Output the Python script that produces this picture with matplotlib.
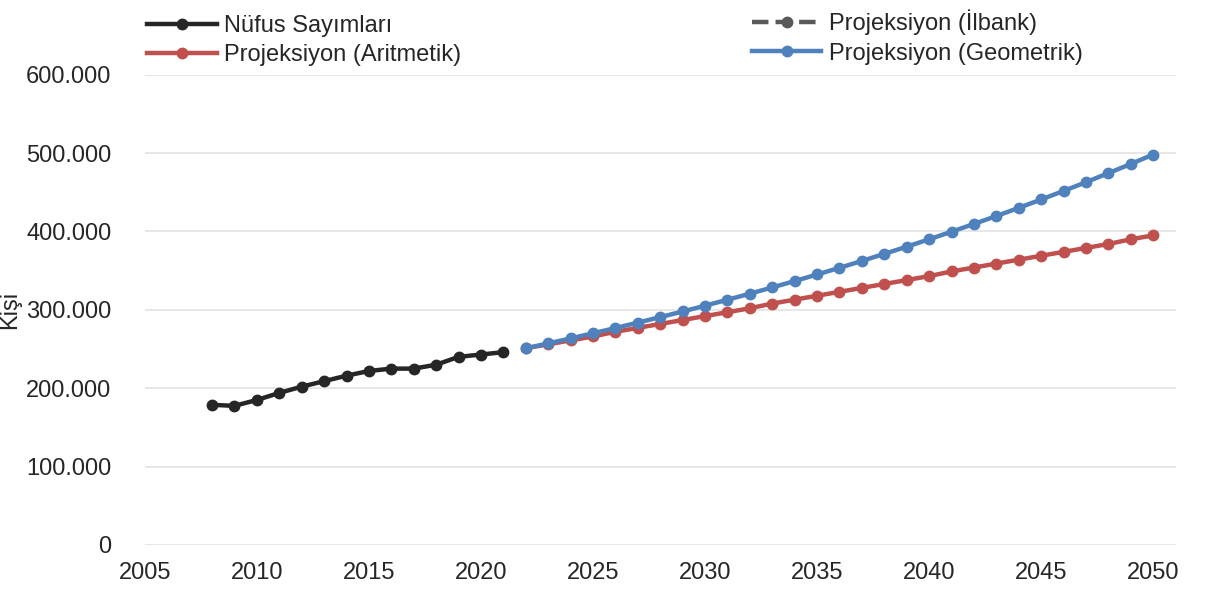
import matplotlib.pyplot as plt
from matplotlib.ticker import FuncFormatter

plt.rcParams['font.family'] = ['Liberation Sans', 'DejaVu Sans']

# census years and population
census_years = list(range(2008, 2022))
census_pop = [178800, 177500, 185000, 194000, 202000, 209000, 216000,
              222000, 225000, 225000, 230000, 240000, 243000, 246000]

# projection years
proj_years = list(range(2022, 2051))
proj_arit = [251000, 256000, 261000, 266000, 272000, 277000, 282000, 287000,
             292000, 297000, 302000, 308000, 313000, 318000, 323000, 328000,
             333000, 338000, 343000, 349000, 354000, 359000, 364000, 369000,
             374000, 379000, 384000, 390000, 395000]
proj_geo = [251000, 257200, 263600, 270100, 276800, 283700, 290700, 297900,
            305300, 312900, 320600, 328600, 336700, 345100, 353600, 362400,
            371400, 380600, 390000, 399700, 409600, 419700, 430100, 440800,
            451700, 462900, 474400, 486100, 498200]
# ilbank series has no visible points on the chart
ilbank_years = []
ilbank_pop = []

c_black = '#262626'
c_red = '#c0504d'
c_blue = '#4f81bd'
c_gray = '#595959'
fs = 17

fig = plt.figure(figsize=(12.17, 5.93), dpi=100)
ax = fig.add_axes([0.119, 0.081, 0.847, 0.793])

l1, = ax.plot(census_years, census_pop, color=c_black, lw=3.2, marker='o', ms=7.5, zorder=4)
l2, = ax.plot(proj_years, proj_arit, color=c_red, lw=3.2, marker='o', ms=7.5, zorder=3)
l3, = ax.plot(ilbank_years, ilbank_pop, color=c_gray, lw=3.2, ls='--', marker='o', ms=7.5)
l4, = ax.plot(proj_years, proj_geo, color=c_blue, lw=3.2, marker='o', ms=7.5, zorder=3)

ax.set_xlim(2005, 2051)
ax.set_ylim(0, 600000)
ax.set_xticks(range(2005, 2051, 5))
ax.set_yticks(range(0, 600001, 100000))
ax.yaxis.set_major_formatter(FuncFormatter(lambda v, p: f'{int(v):,}'.replace(',', '.')))
ax.grid(axis='y', color='#e3e3e3', lw=1.2)
ax.set_axisbelow(True)
for s in ax.spines.values():
    s.set_visible(False)
ax.tick_params(length=0, labelsize=fs, colors='#262626')
ax.tick_params(axis='x', pad=12)
ax.tick_params(axis='y', pad=24)
ax.set_ylabel('Kişi', fontsize=fs, color='#262626')
ax.yaxis.set_label_coords(-0.12, 0.5)

leg_kw = dict(frameon=False, fontsize=fs, handlelength=2.95, handletextpad=0.3,
              labelspacing=0.32, borderaxespad=0, labelcolor='#262626')
lg1 = fig.legend([l1, l2], ['Nüfus Sayımları', 'Projeksiyon (Aritmetik)'],
                 loc='upper left', bbox_to_anchor=(0.113, 0.991), **leg_kw)
lg2 = fig.legend([l3, l4], ['Projeksiyon (İlbank)', 'Projeksiyon (Geometrik)'],
                 loc='upper left', bbox_to_anchor=(0.610, 1.0), **leg_kw)

fig.savefig('out.png', dpi=100)
